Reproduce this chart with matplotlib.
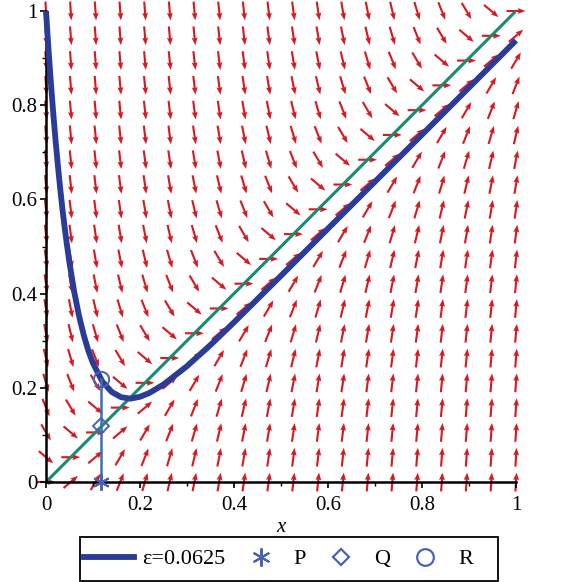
import numpy as np
import matplotlib.pyplot as plt
from matplotlib.lines import Line2D
from matplotlib.patches import Rectangle

eps = 0.0625

# grid of the direction field for  eps*y' = x - y
grid_x = np.linspace(0, 1, 20)
grid_y = np.linspace(0, 1, 20)

# solution curve
curve_x = [0.0, 0.0025, 0.005, 0.01, 0.015, 0.02, 0.025, 0.03, 0.035, 0.04, 0.045,
           0.05, 0.06, 0.07, 0.08, 0.09, 0.10, 0.12, 0.14, 0.16, 0.18, 0.20,
           0.22, 0.25, 0.30, 0.35, 0.40, 0.50, 0.60, 0.80, 1.0]
curve_y = [1.0, 0.961, 0.923, 0.853, 0.788, 0.729, 0.675, 0.625, 0.579, 0.538, 0.500,
           0.465, 0.404, 0.354, 0.313, 0.279, 0.252, 0.213, 0.191, 0.180, 0.177, 0.181,
           0.189, 0.207, 0.246, 0.291, 0.339, 0.438, 0.538, 0.7375, 0.9375]

diag_x = [0, 1]
diag_y = [0, 1]

# points P, Q, R on the vertical line
px = 0.117
p_y = 0.0
q_y = 0.119
r_y = 0.218

ticks = [0, 0.2, 0.4, 0.6, 0.8, 1]
tick_labels = ['0', '0.2', '0.4', '0.6', '0.8', '1']
minor = [0.1, 0.3, 0.5, 0.7, 0.9]

red = '#d61a22'
navy = '#2b3c98'
teal = '#1a8a72'
mk = '#4a62b6'

plt.rcParams['font.family'] = ['Liberation Serif', 'DejaVu Serif']

fig = plt.figure(figsize=(5.63, 5.82), dpi=100)
ax = fig.add_axes([46/563, 1-482/582, 470/563, 471/582])

X, Y = np.meshgrid(grid_x, grid_y)
U = np.ones_like(X)
V = (X - Y) / eps
n = np.hypot(U, V)
L = 0.040
ax.quiver(X, Y, U/n*L, V/n*L, angles='xy', scale_units='xy', scale=1,
          pivot='middle', color=red, width=0.0045, headwidth=2.8,
          headlength=3.6, headaxislength=3.2, zorder=1, clip_on=False)

ax.plot(diag_x, diag_y, color=teal, lw=2.2, zorder=2)
ax.plot(curve_x, curve_y, color=navy, lw=4.2, zorder=3, clip_on=False,
        solid_capstyle='butt')
ax.plot([px, px], [p_y, r_y], color='#3a70b0', lw=1.8, zorder=4)
ax.plot([px], [p_y], marker=(6, 2, 0), ms=12, color=mk, mew=1.4, ls='none', zorder=5, clip_on=False)
ax.plot([px], [q_y], marker='D', ms=8, mfc='none', mec=mk, mew=1.4, ls='none', zorder=5)
ax.plot([px], [r_y], marker='o', ms=11, mfc='none', mec=mk, mew=1.4, ls='none', zorder=5)

ax.set_xlim(0, 1)
ax.set_ylim(0, 1)
for s in ['top', 'right']:
    ax.spines[s].set_visible(False)
for s in ['left', 'bottom']:
    ax.spines[s].set_linewidth(1.8)
ax.set_xticks(ticks)
ax.set_xticklabels(tick_labels)
ax.set_yticks(ticks)
ax.set_yticklabels(tick_labels)
ax.set_xticks(minor, minor=True)
ax.set_yticks(minor, minor=True)
ax.tick_params(which='major', length=4, width=1.2, labelsize=15, pad=6)
ax.tick_params(which='minor', length=3, width=1.0)
ax.tick_params(axis='y', pad=2)
ax.set_xlabel('x', fontstyle='italic', fontsize=15, labelpad=2)

handles = [
    Line2D([], [], color=navy, lw=4.2),
    Line2D([], [], marker=(6, 2, 0), ms=13, color=mk, mew=1.5, ls='none'),
    Line2D([], [], marker='D', ms=8, mfc='none', mec=mk, mew=1.6, ls='none'),
    Line2D([], [], marker='o', ms=12, mfc='none', mec=mk, mew=1.6, ls='none'),
]
labels = ['\u03b5=0.0625', 'P', 'Q', 'R']
fig.legend(handles, labels, loc='center left', bbox_to_anchor=(80/563, 1-559/582),
           ncol=4, frameon=False, fontsize=16, handlelength=2.25,
           handletextpad=0.36, columnspacing=0.45, borderpad=0.2,
           borderaxespad=0.0)
fig.patches.append(Rectangle((80/563, 1-581/582), 418/563, 44/582,
                             transform=fig.transFigure, fill=False,
                             ec='black', lw=1.3))

fig.savefig('out.png', dpi=100)
